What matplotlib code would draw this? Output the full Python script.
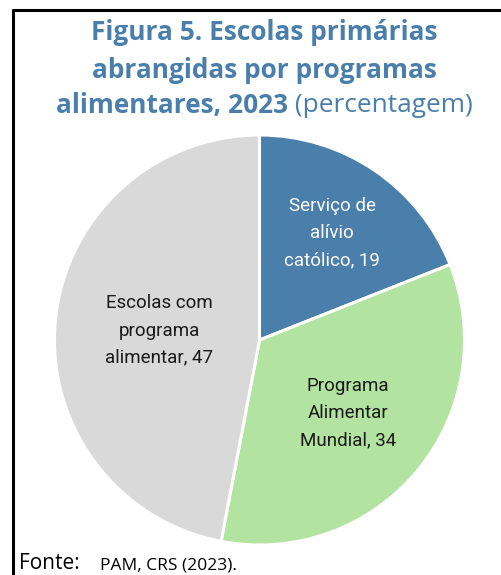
import matplotlib
matplotlib.use("Agg")
import matplotlib.pyplot as plt
import numpy as np

categories = ["Serviço de\nalívio\ncatólico", "Programa\nAlimentar\nMundial", "Escolas com\nprograma\nalimentar"]
values = [19, 34, 47]
colors = ["#4A7EAB", "#B3E3A1", "#D9D9D9"]
label_colors = ["white", "#1a1a1a", "#1a1a1a"]
label_dist = [0.63, 0.56, 0.49]

title_lines = ["Figura 5. Escolas primárias", "abrangidas por programas", "alimentares, 2023"]
title_suffix = " (percentagem)"
source_label = "Fonte:"
source_text = "PAM, CRS (2023)."

W, H = 502, 575
fig = plt.figure(figsize=(W / 100, H / 100), dpi=100)
fig.patch.set_facecolor("white")

def fx(px):
    return px / W

def fy(py):
    return 1 - py / H

# frame lines (top and left)
fig.add_artist(plt.Line2D([fx(12), fx(502)], [fy(9.5), fy(9.5)], color="black", lw=2.2,
                          solid_capstyle="butt"))
fig.add_artist(plt.Line2D([fx(13), fx(13)], [fy(9), fy(575)], color="black", lw=2.2,
                          solid_capstyle="butt"))

# pie
cx, cy, r = 259.5, 340, 205
ax = fig.add_axes([fx(cx - r), fy(cy + r), 2 * r / W, 2 * r / H])
wedges, _ = ax.pie(values, colors=colors, startangle=90, counterclock=False,
                   wedgeprops=dict(edgecolor="white", linewidth=2.2))
ax.set_xlim(-1, 1)
ax.set_ylim(-1, 1)
ax.set_aspect("equal")
ax.axis("off")

for w, cat, val, col, d in zip(wedges, categories, values, label_colors, label_dist):
    ang = np.deg2rad((w.theta1 + w.theta2) / 2)
    ax.text(d * np.cos(ang), d * np.sin(ang), f"{cat}, {val}", ha="center", va="center",
            multialignment="center", color=col, fontsize=13.5, family="Roboto",
            linespacing=1.65)

# title
tcol = "#4A7EAB"
title_y = [33, 70, 106]
fig.canvas.draw()
renderer = fig.canvas.get_renderer()
center_x = 264
tsize = 18.9
for i, (line, y) in enumerate(zip(title_lines, title_y)):
    if i < 2:
        fig.text(fx(center_x), fy(y), line, ha="center", va="center", color=tcol,
                 fontsize=tsize, fontweight="bold", family="Open Sans")
    else:
        t1 = fig.text(0, fy(y), line, ha="left", va="center", color=tcol,
                      fontsize=tsize, fontweight="bold", family="Open Sans")
        t2 = fig.text(0, fy(y), title_suffix, ha="left", va="center", color=tcol,
                      fontsize=tsize, fontweight="normal", family="Open Sans")
        w1 = t1.get_window_extent(renderer).width
        w2 = t2.get_window_extent(renderer).width
        x0 = center_x - (w1 + w2) / 2
        t1.set_x(fx(x0))
        t2.set_x(fx(x0 + w1))

# source
fig.text(fx(19), fy(569), source_label, ha="left", va="baseline", fontsize=15, family="Open Sans", color="black")
fig.text(fx(100), fy(569), source_text, ha="left", va="baseline", fontsize=12.5, family="Open Sans", color="black")

fig.savefig("out.png", dpi=100, facecolor="white")
